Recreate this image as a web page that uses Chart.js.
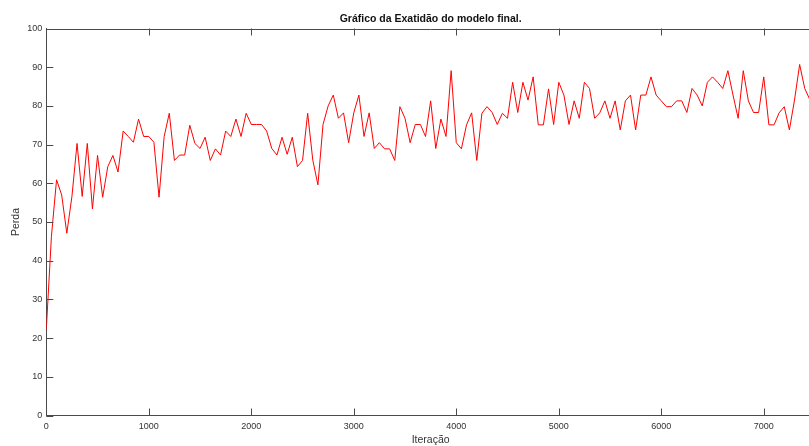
<!DOCTYPE html>
<html>
<head>
<meta charset="utf-8">
<script src="https://cdn.jsdelivr.net/npm/chart.js@4.4.1/dist/chart.umd.min.js"></script>
<style>
  html, body { margin: 0; padding: 0; background: #ffffff; overflow: hidden; width: 809px; height: 446px; }
  canvas { display: block; }
</style>
</head>
<body>
<canvas id="c" width="815" height="446"></canvas>
<script>
// ---- data ----
const chartTitle = 'Gráfico da Exatidão do modelo final.';
const xAxisLabel = 'Iteração';
const yAxisLabel = 'Perda';
const iterStep = 50;          // one recorded value every 50 iterations
const accuracy = [
  22.2, 46.3, 60.9, 57.0, 47.1, 56.6, 70.3, 56.6, 70.3, 53.4,
  67.2, 56.4, 64.3, 67.2, 62.9, 73.5, 72.1, 70.6, 76.6, 72.1,
  72.1, 70.6, 56.4, 72.1, 78.1, 65.9, 67.3, 67.3, 75.0, 70.3,
  69.0, 71.9, 65.9, 68.9, 67.3, 73.5, 72.1, 76.6, 72.1, 78.1,
  75.2, 75.2, 75.2, 73.5, 69.0, 67.3, 71.9, 67.5, 71.9, 64.3,
  65.9, 78.1, 66.0, 59.6, 75.2, 80.0, 82.8, 76.8, 78.2, 70.5,
  78.2, 82.8, 72.1, 78.2, 69.0, 70.5, 68.9, 68.9, 65.9, 79.8,
  76.8, 70.5, 75.2, 75.2, 72.1, 81.3, 69.0, 76.6, 72.1, 89.1,
  70.5, 68.9, 75.1, 78.2, 65.9, 78.1, 79.8, 78.3, 75.2, 78.1,
  76.8, 86.1, 78.3, 86.1, 81.5, 87.5, 75.1, 75.1, 84.4, 75.2,
  86.1, 82.8, 75.2, 81.3, 76.8, 86.1, 84.5, 76.8, 78.2, 81.3,
  76.8, 81.3, 73.8, 81.3, 82.8, 73.8, 82.8, 82.8, 87.5, 82.8,
  81.3, 79.8, 79.8, 81.3, 81.3, 78.3, 84.5, 82.8, 80.0, 86.1,
  87.5, 86.1, 84.5, 89.1, 82.8, 76.8, 89.1, 81.3, 78.3, 78.3,
  87.5, 75.1, 75.1, 78.2, 79.8, 73.8, 81.5, 90.7, 84.5, 81.6
];
const xTickValues = [0, 1000, 2000, 3000, 4000, 5000, 6000, 7000];
const yTickValues = [0, 10, 20, 30, 40, 50, 60, 70, 80, 90, 100];

const points = accuracy.map((v, i) => ({ x: i * iterStep, y: v }));

const FONT = "'Liberation Sans', Arial, Helvetica, sans-serif";
const AXIS_COLOR = '#4a4a4a';
const TEXT_COLOR = '#333333';

// Title centred over the plot area + MATLAB-style inward ticks and box
const matlabAxes = {
  id: 'matlabAxes',
  afterDraw(chart) {
    const ctx = chart.ctx;
    const a = chart.chartArea;
    const xs = chart.scales.x, ys = chart.scales.y;
    ctx.save();
    ctx.strokeStyle = AXIS_COLOR;
    ctx.lineWidth = 1;
    ctx.beginPath();
    // top border
    ctx.moveTo(a.left, Math.round(a.top) + 0.5);
    ctx.lineTo(a.right, Math.round(a.top) + 0.5);
    const tl = 7;
    xTickValues.forEach(v => {
      const px = Math.round(xs.getPixelForValue(v)) + 0.5;
      ctx.moveTo(px, a.bottom); ctx.lineTo(px, a.bottom - tl);
      ctx.moveTo(px, a.top); ctx.lineTo(px, a.top + tl);
    });
    yTickValues.forEach(v => {
      const py = Math.round(ys.getPixelForValue(v)) + 0.5;
      ctx.moveTo(a.left, py); ctx.lineTo(a.left + tl, py);
    });
    ctx.stroke();
    // title
    ctx.fillStyle = '#111111';
    ctx.font = 'bold 10.5px ' + FONT;
    ctx.textAlign = 'center';
    ctx.textBaseline = 'middle';
    ctx.fillText(chartTitle, (a.left + a.right) / 2, 19.5);
    ctx.restore();
  }
};

new Chart(document.getElementById('c'), {
  type: 'line',
  data: {
    datasets: [{
      data: points,
      borderColor: 'rgb(255,0,0)',
      borderWidth: 1,
      pointRadius: 0,
      tension: 0,
      fill: false
    }]
  },
  options: {
    responsive: false,
    animation: false,
    devicePixelRatio: 1,
    layout: { padding: { top: 28.5, left: 0, right: 0, bottom: 0 } },
    plugins: { legend: { display: false }, tooltip: { enabled: false }, title: { display: false } },
    scales: {
      x: {
        type: 'linear',
        min: 0,
        max: 7500,
        afterFit: s => { s.height = 30.5; },
        afterBuildTicks: s => { s.ticks = xTickValues.map(v => ({ value: v })); },
        ticks: { includeBounds: false, stepSize: 1000, padding: 6, color: TEXT_COLOR, maxRotation: 0,
                 font: { family: FONT, size: 9 }, callback: v => String(v) },
        grid: { display: true, drawOnChartArea: false, drawTicks: false },
        border: { display: true, color: AXIS_COLOR, width: 1 },
        title: { display: true, text: xAxisLabel, color: TEXT_COLOR, padding: { top: 0, bottom: 0 },
                 font: { family: FONT, size: 10.5 } }
      },
      y: {
        type: 'linear',
        min: 0,
        max: 100,
        afterFit: s => { s.width = 46.3; },
        afterBuildTicks: s => { s.ticks = yTickValues.map(v => ({ value: v })); },
        ticks: { stepSize: 10, padding: 4, color: TEXT_COLOR, font: { family: FONT, size: 9 } },
        grid: { display: true, drawOnChartArea: false, drawTicks: false },
        border: { display: true, color: AXIS_COLOR, width: 1 },
        title: { display: true, text: yAxisLabel, color: TEXT_COLOR, padding: { top: 9.7, bottom: 0 },
                 font: { family: FONT, size: 10.5 } }
      }
    }
  },
  plugins: [matlabAxes]
});
</script>
</body>
</html>
